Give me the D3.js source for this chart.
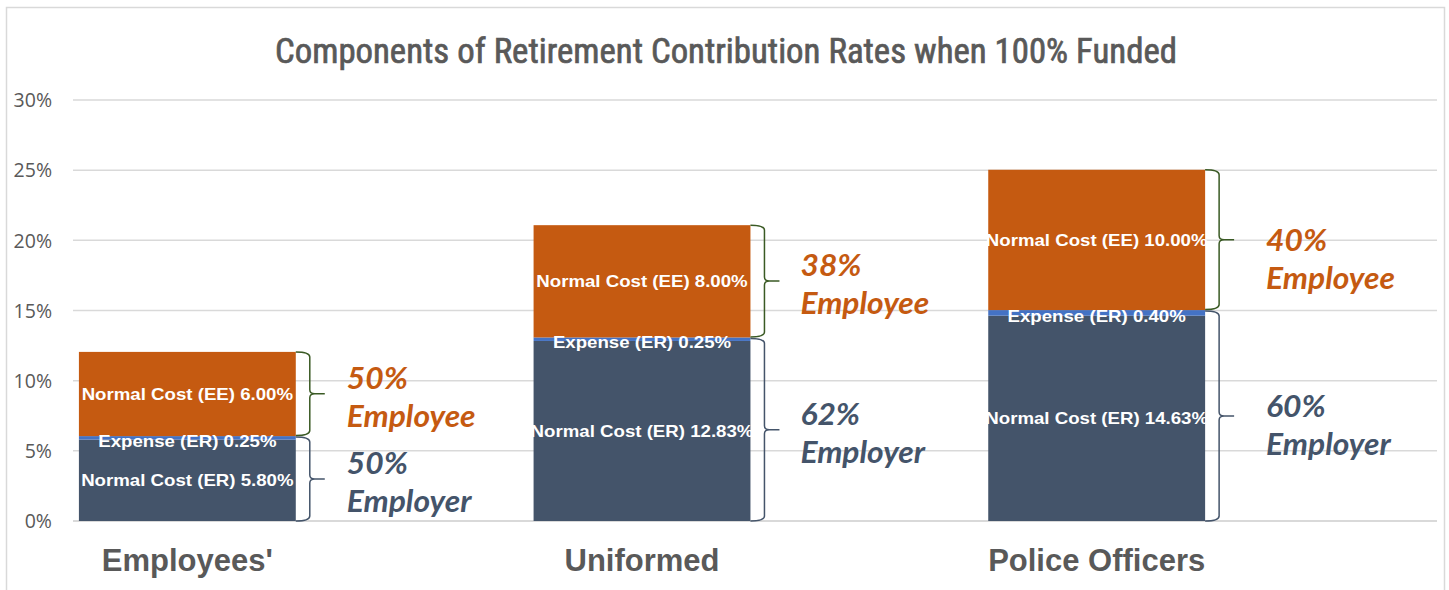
<!DOCTYPE html>
<html><head><meta charset="utf-8">
<script src="https://cdn.jsdelivr.net/npm/d3@7"></script>
<style>
html,body{margin:0;padding:0;background:#fff;}
svg{display:block;}
</style></head>
<body>
<svg id="chart" width="1449" height="590"></svg>
<script>
const categories = ["Employees'", "Uniformed", "Police Officers"];
const normalCostER = [5.80, 12.83, 14.63];
const expenseER = [0.25, 0.25, 0.40];
const normalCostEE = [6.00, 8.00, 10.00];
const yTicks = [0, 5, 10, 15, 20, 25, 30];
const title = "Components of Retirement Contribution Rates when 100% Funded";

const colors = {er: "#44546A", exp: "#4472C4", ee: "#C55A11", text: "#595959", grid: "#D9D9D9", eeBrace: "#3A5A24"};

const svg = d3.select("#chart");
const plot = {left: 73, right: 1437, top: 100, bottom: 521};

// outer border
svg.append("rect").attr("x", 6.5).attr("y", 7.5).attr("width", 1438).attr("height", 600)
  .attr("fill", "none").attr("stroke", colors.grid).attr("stroke-width", 1.5);

// title
svg.append("text").attr("x", 726).attr("y", 63).attr("text-anchor", "middle")
  .attr("font-family", "Liberation Sans Narrow, Roboto Condensed, Liberation Sans, Arial, sans-serif")
  .attr("font-size", 35).attr("fill", colors.text)
  .attr("stroke", colors.text).attr("stroke-width", 0.7)
  .attr("textLength", 902).attr("lengthAdjust", "spacingAndGlyphs")
  .text(title);

const y = d3.scaleLinear().domain([0, 30]).range([plot.bottom, plot.top]);
const x = d3.scaleBand().domain(categories).range([plot.left, plot.right]).padding(0);

// gridlines
svg.append("g").selectAll("line").data(yTicks).join("line")
  .attr("x1", plot.left).attr("x2", plot.right)
  .attr("y1", d => y(d)).attr("y2", d => y(d))
  .attr("stroke", colors.grid).attr("stroke-width", d => d === 0 ? 2 : 1.5);

// y axis labels
const yAxis = d3.axisLeft(y).tickValues(yTicks).tickFormat(d => d + "%").tickSize(0).tickPadding(0);
const gy = svg.append("g").attr("transform", `translate(52,0)`).call(yAxis);
gy.select(".domain").remove();
gy.selectAll("text").attr("font-family", "Open Sans, DejaVu Sans, sans-serif")
  .attr("font-size", 19.5).attr("fill", colors.text).attr("dy", "0.35em");

const bw = x.bandwidth();
const barX = c => x(c) + bw * 0.013;
const barW = bw * 0.477;

const rows = categories.map((c, i) => ({
  cat: c, er: normalCostER[i], exp: expenseER[i], ee: normalCostEE[i]
}));

// per-category nudges of the share labels (layout only)
const labelNudge = [{dx: 51, ee: 0, er: 0}, {dx: 50, ee: 0, er: 0}, {dx: 61, ee: 16, er: 6}];

const g = svg.append("g");
rows.forEach((r, i) => {
  const bx = barX(r.cat);
  const segs = [
    {key: "er", y0: 0, y1: r.er, color: colors.er, label: `Normal Cost (ER) ${r.er.toFixed(2)}%`},
    {key: "exp", y0: r.er, y1: r.er + r.exp, color: colors.exp, label: `Expense (ER) ${r.exp.toFixed(2)}%`},
    {key: "ee", y0: r.er + r.exp, y1: r.er + r.exp + r.ee, color: colors.ee, label: `Normal Cost (EE) ${r.ee.toFixed(2)}%`}
  ];
  segs.forEach(s => {
    g.append("rect").attr("x", bx).attr("width", barW)
      .attr("y", y(s.y1)).attr("height", y(s.y0) - y(s.y1))
      .attr("fill", s.color);
  });
  segs.forEach(s => {
    let cy = (y(s.y0) + y(s.y1)) / 2;
    if (s.key === "exp") cy += 3;
    const t = g.append("text").attr("x", bx + barW / 2).attr("y", cy).attr("dy", "0.35em")
      .attr("text-anchor", "middle")
      .attr("font-family", "Liberation Sans, Arial, sans-serif").attr("font-weight", "bold")
      .attr("font-size", 16.5).attr("fill", "#fff")
      .text(s.label);
    const len = t.node().getComputedTextLength();
    t.attr("textLength", len * 1.13).attr("lengthAdjust", "spacingAndGlyphs");
  });

  // braces
  const x0 = bx + barW;
  const total = r.er + r.exp + r.ee;
  const braces = [
    {top: y(total), bot: y(r.er + r.exp) - 0.5, color: colors.eeBrace, share: r.ee / total, word: "Employee", tcolor: colors.ee, nudge: labelNudge[i].ee},
    {top: y(r.er + r.exp) + 1, bot: y(0), color: colors.er, share: (r.er + r.exp) / total, word: "Employer", tcolor: colors.er, nudge: labelNudge[i].er}
  ];
  braces.forEach(b => {
    const x1 = x0 + 14, xt = x0 + 29, rr = 5;
    const ym = (b.top + b.bot) / 2;
    const p = `M${x0},${b.top} Q${x1},${b.top} ${x1},${b.top + rr} L${x1},${ym - 4} Q${x1},${ym} ${x1 + 5},${ym} L${xt},${ym} M${x1 + 5},${ym} Q${x1},${ym} ${x1},${ym + 4} L${x1},${b.bot - rr} Q${x1},${b.bot} ${x0},${b.bot}`;
    g.append("path").attr("d", p).attr("fill", "none").attr("stroke", b.color).attr("stroke-width", 1.5);
    const tx = x0 + labelNudge[i].dx;
    const ly = ym + b.nudge;
    const mk = (txt, yy) => {
      const t = g.append("text").attr("x", tx).attr("y", yy)
        .attr("font-family", "Lato, Open Sans, sans-serif")
        .attr("font-weight", "bold").attr("font-style", "italic")
        .attr("font-size", 30).attr("fill", b.tcolor).text(txt);
      const len = t.node().getComputedTextLength();
      t.attr("textLength", len * 1.06).attr("lengthAdjust", "spacingAndGlyphs");
    };
    mk(d3.format(".0%")(b.share), ly - 5);
    mk(b.word, ly + 33);
  });

  // category label
  svg.append("text").attr("x", bx + barW / 2).attr("y", 571).attr("text-anchor", "middle")
    .attr("font-family", "Liberation Sans Narrow, Liberation Sans, Arial, sans-serif")
    .attr("font-weight", "bold").attr("font-size", 31).attr("fill", colors.text)
    .text(r.cat);
});
</script>
</body></html>
